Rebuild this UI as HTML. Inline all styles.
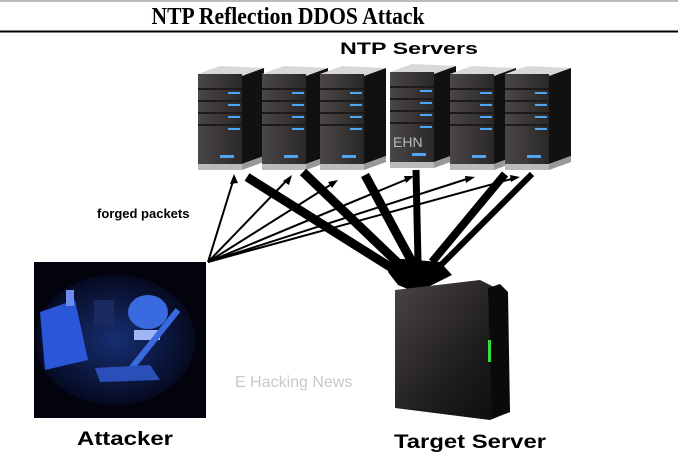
<!DOCTYPE html>
<html><head><meta charset="utf-8"><style>
html,body{margin:0;padding:0;background:#fff;width:678px;height:468px;overflow:hidden}
svg{display:block}
</style></head><body>
<svg width="678" height="468" viewBox="0 0 678 468" xmlns="http://www.w3.org/2000/svg">
<defs>
<linearGradient id="fr" x1="0" y1="0" x2="1" y2="0"><stop offset="0" stop-color="#4a4746"/><stop offset="1" stop-color="#2a2827"/></linearGradient>
<linearGradient id="tg" x1="0" y1="0" x2="1" y2="1"><stop offset="0" stop-color="#4a4544"/><stop offset="0.6" stop-color="#1e1c1c"/><stop offset="1" stop-color="#0b0b0b"/></linearGradient>
<radialGradient id="hk" cx="0.5" cy="0.5" r="0.6"><stop offset="0" stop-color="#2a5ad8"/><stop offset="1" stop-color="#020314"/></radialGradient>
<g id="srv">
  <polygon points="0,8 22,0 66,2 44,10" fill="#d8d8d8"/>
  <rect x="0" y="8" width="44" height="90" fill="url(#fr)"/>
  <polygon points="44,10 66,2 66,90 44,98" fill="#111"/>
  <rect x="0" y="98" width="44" height="6" fill="#bbb"/>
  <polygon points="44,98 66,90 66,96 44,104" fill="#999"/>
  <g fill="#1c1a1a"><rect x="0" y="22" width="44" height="2"/><rect x="0" y="34" width="44" height="2"/><rect x="0" y="46" width="44" height="2"/><rect x="0" y="58" width="44" height="2"/></g>
  <g fill="#4ea6f0"><rect x="30" y="26" width="12" height="2"/><rect x="30" y="38" width="12" height="2"/><rect x="30" y="50" width="12" height="2"/><rect x="30" y="62" width="12" height="2"/><rect x="22" y="89" width="14" height="3"/></g>
</g>
</defs>
<line x1="0" y1="1" x2="678" y2="1" stroke="#bbb" stroke-width="2"/>
<text x="288" y="24" text-anchor="middle" font-family="Liberation Serif, serif" font-weight="bold" font-size="24" textLength="273" lengthAdjust="spacingAndGlyphs">NTP Reflection DDOS Attack</text>
<line x1="0" y1="31.5" x2="678" y2="31.5" stroke="#000" stroke-width="2"/>
<text x="409" y="54" text-anchor="middle" font-family="Liberation Sans, sans-serif" font-weight="bold" font-size="17" textLength="138" lengthAdjust="spacingAndGlyphs">NTP Servers</text>
<use href="#srv" x="198" y="66"/>
<use href="#srv" x="262" y="66"/>
<use href="#srv" x="320" y="66"/>
<use href="#srv" x="390" y="64"/>
<use href="#srv" x="450" y="66"/>
<use href="#srv" x="505" y="66"/>
<text x="393" y="147" font-family="Liberation Sans, sans-serif" font-size="14" fill="#bbb">EHN</text>
<!-- thick arrows -->
<g stroke="#000" stroke-linecap="butt">
  <line x1="247" y1="177" x2="395" y2="270" stroke-width="9"/>
  <line x1="303" y1="172" x2="400" y2="265" stroke-width="9"/>
  <line x1="365" y1="175" x2="412" y2="262" stroke-width="9"/>
  <line x1="416" y1="170" x2="418" y2="262" stroke-width="7"/>
  <line x1="505" y1="174" x2="432" y2="262" stroke-width="8"/>
  <line x1="532" y1="174" x2="440" y2="266" stroke-width="6"/>
</g>
<polygon points="390,258 440,262 452,275 430,286 415,292 398,285 388,272" fill="#000"/>
<!-- thin arrows -->
<g stroke="#000" stroke-width="2">
  <line x1="208" y1="262" x2="234" y2="178"/>
  <line x1="208" y1="262" x2="289" y2="178"/>
  <line x1="208" y1="262" x2="335" y2="182"/>
  <line x1="208" y1="262" x2="410" y2="178"/>
  <line x1="208" y1="262" x2="470" y2="178"/>
  <line x1="208" y1="262" x2="515" y2="178"/>
</g>
<g fill="#000">
  <polygon points="234,174 230,184 238,183"/>
  <polygon points="292,175 283,181 289,185"/>
  <polygon points="338,180 328,182 332,188"/>
  <polygon points="414,176 404,176 406,183"/>
  <polygon points="475,177 465,176 466,183"/>
  <polygon points="520,177 510,175 511,182"/>
</g>
<text x="97" y="218" font-family="Liberation Sans, sans-serif" font-weight="bold" font-size="13">forged packets</text>
<!-- attacker -->
<rect x="34" y="262" width="172" height="156" fill="#02030d"/>
<ellipse cx="115" cy="340" rx="80" ry="65" fill="url(#hk)" opacity="0.5"/>
<polygon points="40,312 75,300 88,360 45,370" fill="#2a56d8"/>
<rect x="66" y="290" width="8" height="16" fill="#6c8cf0"/>
<rect x="94" y="300" width="20" height="25" fill="#1a2a60"/>
<ellipse cx="148" cy="312" rx="20" ry="17" fill="#3a6ae0"/>
<rect x="134" y="330" width="26" height="10" fill="#9fb6f5"/>
<line x1="178" y1="310" x2="130" y2="370" stroke="#3a6ae0" stroke-width="6"/>
<polygon points="95,368 150,365 160,380 100,382" fill="#2b4fb8"/>
<text x="235" y="387" font-family="Liberation Sans, sans-serif" font-size="16" fill="#c8c8c8">E Hacking News</text>
<text x="125" y="445" text-anchor="middle" font-family="Liberation Sans, sans-serif" font-weight="bold" font-size="19" textLength="96" lengthAdjust="spacingAndGlyphs">Attacker</text>
<!-- target server -->
<polygon points="395,290 480,280 500,290 510,412 490,420 395,408" fill="url(#tg)"/>
<polygon points="488,288 500,284 508,292 510,412 492,418" fill="#0a0a0a"/>
<rect x="488" y="340" width="3" height="22" fill="#30e040"/>
<text x="470" y="448" text-anchor="middle" font-family="Liberation Sans, sans-serif" font-weight="bold" font-size="19" textLength="152" lengthAdjust="spacingAndGlyphs">Target Server</text>
</svg>
</body></html>
